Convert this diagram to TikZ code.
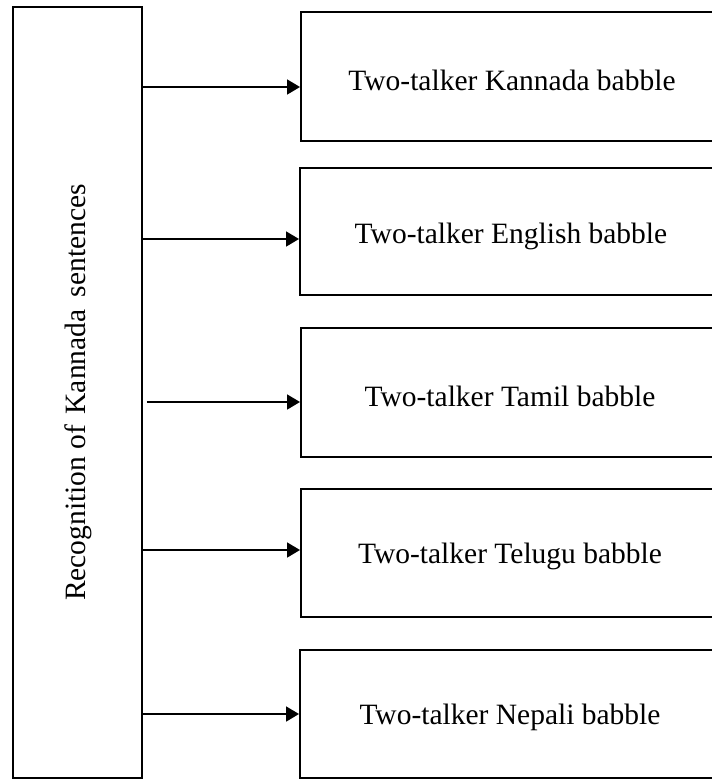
\documentclass[tikz,border=0pt]{standalone}
\usepackage{fontspec}
\setmainfont{Liberation Serif}
\usetikzlibrary{arrows.meta,calc}
\begin{document}
\begin{tikzpicture}[x=1pt,y=-1pt,
  box/.style={draw, line width=1.8pt, inner sep=0pt},
  rbox/.style={box, minimum width=422pt, anchor=west},
  lbl/.style={font=\fontsize{29.5}{34}\selectfont},
  arr/.style={line width=1.8pt, -{Triangle[length=13pt,width=15pt]}}]
\fill[white] (0,0) rectangle (712,779);
\clip (0,0) rectangle (712,779);
\node[box, minimum width=129pt, minimum height=771pt] (L) at (77.5,392.5) {};
\node[lbl, rotate=90] (Lt) at ($(L.center)+(1,0)$) {Recognition of\hspace{3pt} Kannada\hspace{5pt} sentences};
\node[rbox, minimum height=129pt] (B1) at (300,76.5) {};
\node[lbl] (T1) at (512,80) {Two-talker Kannada babble};
\node[rbox, minimum height=127pt] (B2) at (299,231.5) {};
\node[lbl] (T2) at (511,236) {Two-talker English babble};
\node[rbox, minimum height=129pt] (B3) at (300,392.5) {};
\node[lbl] (T3) at (510,396) {Two-talker Tamil babble};
\node[rbox, minimum height=128pt] (B4) at (300,553) {};
\node[lbl] (T4) at (510,556) {Two-talker Telugu babble};
\node[rbox, minimum height=128pt] (B5) at (299,714) {};
\node[lbl] (T5) at (510,717) {Two-talker Nepali babble};
\coordinate (a1) at ($(B1.west)+(0,10.5)$);
\coordinate (a2) at ($(B2.west)+(0,7.5)$);
\coordinate (a3) at ($(B3.west)+(0,9.5)$);
\coordinate (a4) at ($(B4.west)+(0,-3)$);
\coordinate (a5) at ($(B5.west)+(0,0)$);
\draw[arr] (L.east |- a1) -- (a1);
\draw[arr] (L.east |- a2) -- (a2);
\draw[arr] ($(L.east |- a3)+(4,0)$) -- (a3);
\draw[arr] (L.east |- a4) -- (a4);
\draw[arr] (L.east |- a5) -- (a5);
\end{tikzpicture}
\end{document}
